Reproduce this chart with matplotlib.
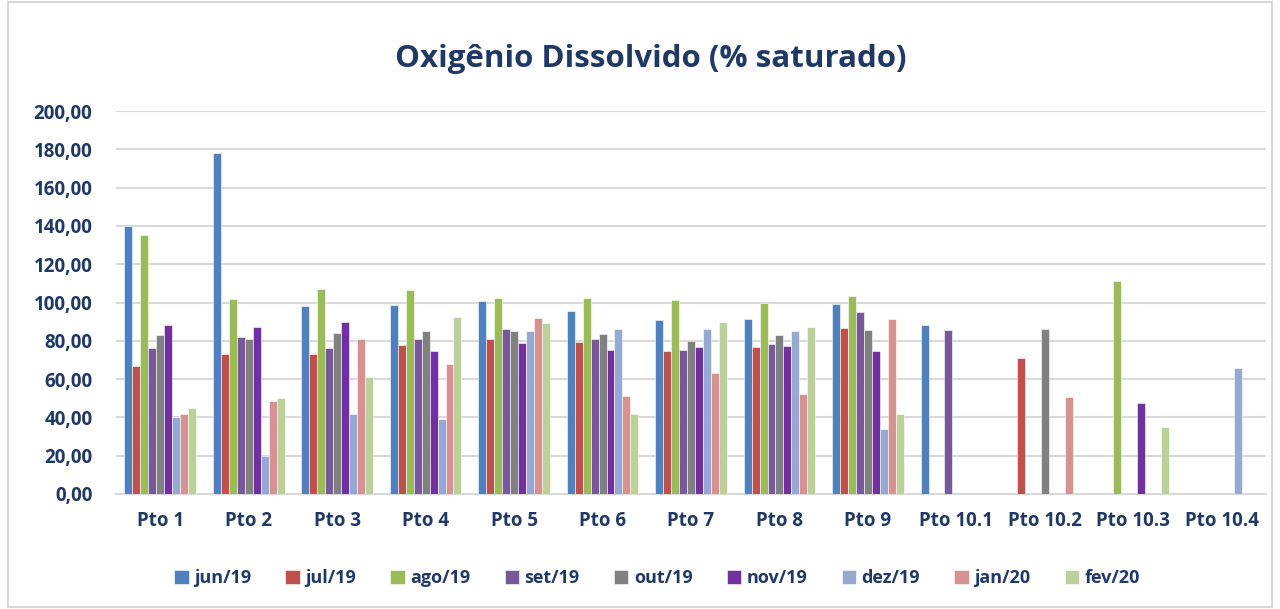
#!/usr/bin/env python3
"""Oxigenio dissolvido - grouped bar chart."""
import numpy as np
import matplotlib.pyplot as plt
from matplotlib.patches import Rectangle

nan = np.nan
pontos = ['Pto 1', 'Pto 2', 'Pto 3', 'Pto 4', 'Pto 5', 'Pto 6', 'Pto 7',
          'Pto 8', 'Pto 9', 'Pto 10.1', 'Pto 10.2', 'Pto 10.3', 'Pto 10.4']
meses = ['jun/19', 'jul/19', 'ago/19', 'set/19', 'out/19',
         'nov/19', 'dez/19', 'jan/20', 'fev/20']
cores = ['#4F81BD', '#C0504D', '#9BBB59', '#77599A', '#808080',
         '#7030A0', '#95A9D2', '#D59290', '#BCD09A']

jun19 = [140, 178, 98, 98.5, 101, 95.5, 91, 91.5, 99, 88, nan, nan, nan]
jul19 = [67, 73, 73, 78, 81, 79.5, 74.5, 77, 86.5, nan, 71, nan, nan]
ago19 = [135.5, 102, 107, 106.5, 102.5, 102.5, 101.5, 100, 103.5, nan, nan, 111, nan]
set19 = [76, 82, 76, 81, 86, 81, 75, 78.5, 95, 85.5, nan, nan, nan]
out19 = [83, 81, 84, 85, 85, 83.5, 80, 83, 85.5, nan, 86, nan, nan]
nov19 = [88, 87, 90, 74.5, 79, 75, 77, 77.5, 74.5, nan, nan, 47.5, nan]
dez19 = [40, 20, 42, 39, 85, 86, 86, 85, 34, nan, nan, nan, 66]
jan20 = [42, 48.5, 81, 68, 92, 51, 63, 52, 91.5, nan, 50.5, nan, nan]
fev20 = [45, 50, 61, 92.5, 89.5, 42, 90, 87, 42, nan, nan, 35, nan]
series = [jun19, jul19, ago19, set19, out19, nov19, dez19, jan20, fev20]

navy = '#1F3864'
plt.rcParams['font.family'] = ['Open Sans', 'DejaVu Sans']

fig = plt.figure(figsize=(12.8, 6.09), dpi=100)
ax = fig.add_axes([116 / 1280, 1 - 494 / 609, 1150 / 1280, 383 / 609])

x = np.arange(len(pontos))
w = 0.09
for i, (vals, nome, cor) in enumerate(zip(series, meses, cores)):
    ax.bar(x + (i - 4) * w, vals, width=w, color=cor, label=nome,
           edgecolor='white', linewidth=0.4, zorder=3)

ax.set_xlim(-0.5, len(pontos) - 0.5)
ax.set_ylim(0, 200)
ax.set_yticks(np.arange(0, 201, 20))
ax.set_yticklabels([f'{v},00' for v in range(0, 201, 20)])
ax.set_xticks(x)
ax.set_xticklabels(pontos)
ax.tick_params(axis='both', length=0, labelsize=13.5, labelcolor=navy)
ax.tick_params(axis='y', pad=17)
ax.tick_params(axis='x', pad=12)
for lab in ax.get_xticklabels() + ax.get_yticklabels():
    lab.set_fontweight('bold')
ax.grid(axis='y', color='#D9D9D9', linewidth=1.5, zorder=0)
for s in ['top', 'right', 'left']:
    ax.spines[s].set_visible(False)
ax.spines['bottom'].set_color('#D9D9D9')
ax.spines['bottom'].set_linewidth(1.5)

fig.text(651 / 1280, 1 - 59 / 609, 'Oxigênio Dissolvido (% saturado)', ha='center',
         va='center', fontsize=22.5, fontweight='bold', color=navy)

leg = fig.legend(loc='center', bbox_to_anchor=(657 / 1280, 1 - 578 / 609), ncol=9,
                 frameon=False, handlelength=0.8, handleheight=0.8,
                 handletextpad=0.3, columnspacing=1.9,
                 prop={'weight': 'bold', 'size': 13})
for t in leg.get_texts():
    t.set_color(navy)

fig.patches.append(Rectangle((8 / 1280, 0.003), 1 - 16 / 1280, 0.994,
                             transform=fig.transFigure, fill=False,
                             edgecolor='#D9D9D9', linewidth=1.5))

plt.savefig('out.png', dpi=100)
print("Generated: out.png")
